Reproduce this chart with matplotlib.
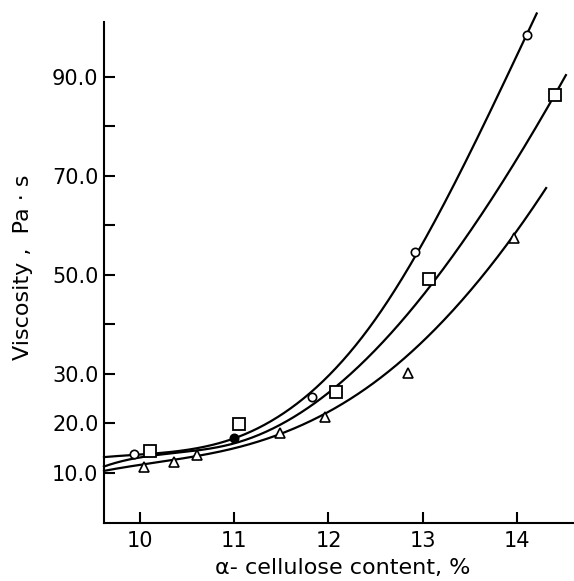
import numpy as np
import matplotlib
matplotlib.use("Agg")
import matplotlib.pyplot as plt

# ---- data ----
circle_x = [9.94, 11.00, 11.83, 12.92, 14.11]
circle_y = [13.8, 17.0, 25.4, 54.6, 98.3]
square_x = [10.11, 11.05, 12.08, 13.07, 14.40]
square_y = [14.5, 19.9, 26.4, 49.1, 86.2]
triangle_x = [10.04, 10.36, 10.60, 11.48, 11.96, 12.84, 13.97]
triangle_y = [11.3, 12.2, 13.7, 18.0, 21.2, 30.2, 57.5]

# points
curve_c_x = [9.617, 10.07, 10.5, 11.0, 11.5, 11.83, 12.41, 12.92, 13.19, 14.11, 14.21]
curve_c_y = [13.2, 13.8, 14.6, 17.2, 21.5, 26.8, 38.2, 54.6, 62.5, 98.5, 102.9]
curve_s_x = [9.617, 10.1, 10.5, 11.0, 11.70, 12.09, 12.59, 13.13, 13.51, 14.41, 14.52]
curve_s_y = [11.4, 13.0, 14.5, 16.5, 22.1, 26.4, 36.9, 50.7, 57.7, 86.2, 90.7]
curve_t_x = [9.617, 10.04, 10.6, 11.0, 11.48, 11.97, 12.84, 13.30, 13.78, 13.97, 14.31]
curve_t_y = [10.5, 11.5, 13.5, 15.3, 18.0, 21.1, 34.5, 42.3, 53.4, 57.4, 67.8]

x_ticks = [10, 11, 12, 13, 14]
x_tick_labels = ["10", "11", "12", "13", "14"]
y_ticks = [10, 20, 30, 40, 50, 60, 70, 80, 90]
y_tick_labels = ["10.0", "20.0", "30.0", "", "50.0", "", "70.0", "", "90.0"]


def basis(x, knots):
    x = np.asarray(x, float)
    cols = [np.ones_like(x), x - 12, (x - 12) ** 2, (x - 12) ** 3]
    for k in knots:
        cols.append(np.clip(x - k, 0, None) ** 3)
    return np.column_stack(cols)


def smooth_curve(cx, cy, xs, knots=(11.0, 12.5)):
    coef, *_ = np.linalg.lstsq(basis(cx, knots), np.asarray(cy, float), rcond=None)
    return basis(xs, knots) @ coef


fig = plt.figure(figsize=(5.74, 5.81), dpi=100)
W, H = 574, 581
ax = fig.add_axes([104 / W, 58.5 / H, (574 - 104) / W, (522.5 - 22) / H])
ax.set_xlim(9.617, 14.606)
ax.set_ylim(0, 101)

for cx, cy in [(curve_c_x, curve_c_y), (curve_s_x, curve_s_y), (curve_t_x, curve_t_y)]:
    xs = np.linspace(cx[0], cx[-1], 400)
    ax.plot(xs, smooth_curve(cx, cy, xs), color="black", lw=1.6, zorder=2, clip_on=False)

ax.plot(circle_x, circle_y, ls="none", marker="o", ms=6, mfc="white", mec="black", mew=1.2, zorder=3)
ax.plot(circle_x[1], circle_y[1], ls="none", marker="o", ms=5, mfc="black", mec="black", zorder=4)
ax.plot(square_x, square_y, ls="none", marker="s", ms=8, mfc="white", mec="black", mew=1.3, zorder=3)
ax.plot(triangle_x, triangle_y, ls="none", marker="^", ms=6.5, mfc="white", mec="black", mew=1.2, zorder=3)

for s in ["top", "right"]:
    ax.spines[s].set_visible(False)
for s in ["left", "bottom"]:
    ax.spines[s].set_linewidth(1.5)

ax.set_xticks(x_ticks)
ax.set_xticklabels(x_tick_labels)
ax.set_yticks(y_ticks)
ax.set_yticklabels(y_tick_labels)
ax.tick_params(direction="in", length=8, width=1.5, labelsize=15, pad=6)
ax.tick_params(axis="y", pad=4)

fig.text(343 / W, 1 - 568 / H, "α- cellulose content, %", ha="center", va="center", fontsize=16)
fig.text(23 / W, 1 - 267 / H, "Viscosity ,  Pa · s", ha="center", va="center", rotation=90, fontsize=16)

fig.savefig("out.png", dpi=100)
